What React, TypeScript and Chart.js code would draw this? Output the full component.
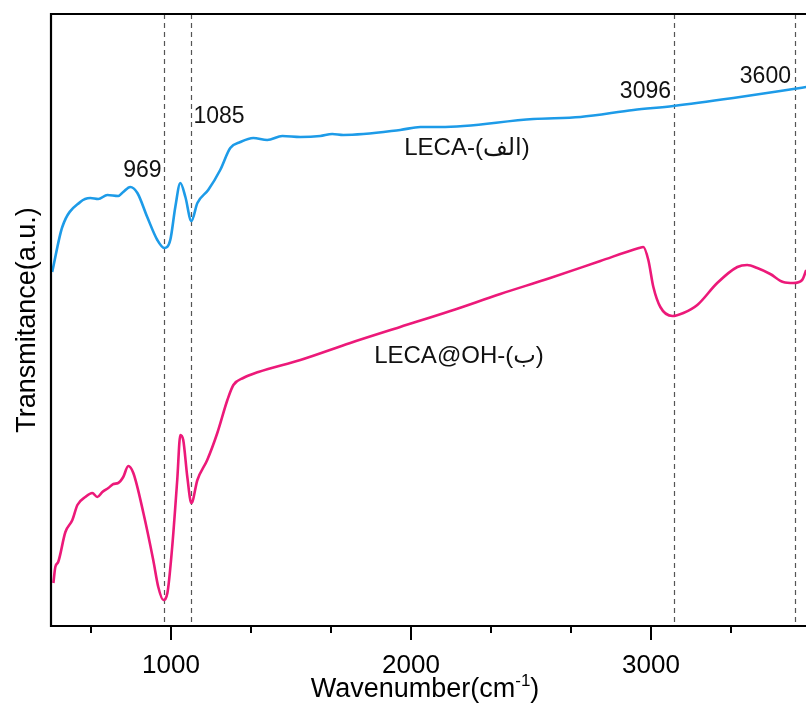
import React, { useEffect, useRef } from "react";
import { Chart, registerables } from "chart.js";

Chart.register(...registerables);

// LECA-(الف) spectrum (upper, blue)
const waveA = [505, 547, 622, 664, 697, 735, 780, 801, 830, 860, 901, 943, 972, 997, 1018, 1039, 1060, 1085, 1110, 1155, 1205, 1247, 1289, 1343, 1401, 1464, 1539, 1622, 1672, 1718, 1955, 2039, 2122, 2510, 2706, 2927, 3093, 3343, 3593, 3647];
const transA = [354, 399, 424, 428, 427, 431, 430, 434, 439, 433, 409, 386, 378, 386, 419, 443, 429, 405, 423, 436, 456, 478, 484, 488, 486, 490, 489, 490, 492, 491, 496, 499, 499, 507, 509, 516, 520, 528, 537, 539];

// LECA@OH-(ب) spectrum (lower, pink)
const waveB = [510, 518, 530, 560, 589, 610, 643, 672, 693, 714, 739, 760, 780, 801, 822, 843, 885, 926, 947, 968, 985, 1005, 1026, 1039, 1051, 1068, 1085, 1110, 1151, 1193, 1235, 1260, 1301, 1364, 1539, 1747, 1955, 2164, 2372, 2580, 2789, 2950, 2968, 2989, 3010, 3039, 3089, 3135, 3193, 3276, 3360, 3401, 3443, 3497, 3551, 3593, 3630, 3647];
const transB = [43, 59, 64, 94, 106, 121, 129, 133, 129, 134, 138, 142, 143, 149, 160, 153, 113, 66, 39, 26, 33, 79, 146, 191, 186, 149, 123, 146, 166, 193, 226, 241, 248, 254, 266, 283, 299, 315, 332, 348, 365, 378, 379, 366, 339, 319, 310, 313, 321, 343, 359, 361, 358, 352, 344, 343, 346, 356];

const markerLines = [969, 1085, 3096, 3600];
const markerLabels = ["969", "1085", "3096", "3600"];
const xTicks = [667, 1000, 1333, 1667, 2000, 2333, 2667, 3000, 3333];
const xTickLabels = [1000, 2000, 3000];
const seriesNames = ["LECA-(الف)", "LECA@OH-(ب)"];

const FONT = '"Liberation Sans", Arial, "DejaVu Sans", sans-serif';

const overlay = {
  id: "overlay",
  beforeDatasetsDraw(chart: any) {
    const ctx = chart.ctx;
    const xs = chart.scales.x;
    const { top, bottom } = chart.chartArea;
    ctx.save();
    ctx.strokeStyle = "#555";
    ctx.lineWidth = 1.2;
    ctx.setLineDash([5, 4]);
    markerLines.forEach((v) => {
      const px = Math.round(xs.getPixelForValue(v)) + 0.5;
      ctx.beginPath();
      ctx.moveTo(px, top);
      ctx.lineTo(px, bottom);
      ctx.stroke();
    });
    ctx.restore();
  },
  afterDatasetsDraw(chart: any) {
    const ctx = chart.ctx;
    const xs = chart.scales.x;
    const { left, right, top, bottom } = chart.chartArea;
    ctx.save();
    // frame
    ctx.strokeStyle = "#000";
    ctx.lineWidth = 2.2;
    ctx.beginPath();
    ctx.moveTo(right + 2, top);
    ctx.lineTo(left, top);
    ctx.lineTo(left, bottom);
    ctx.lineTo(right + 2, bottom);
    ctx.stroke();
    // ticks
    ctx.lineWidth = 2;
    xTicks.forEach((v) => {
      const px = Math.round(xs.getPixelForValue(v));
      const major = xTickLabels.includes(v);
      ctx.beginPath();
      ctx.moveTo(px, bottom);
      ctx.lineTo(px, bottom + (major ? 14 : 7));
      ctx.stroke();
    });
    // tick labels
    ctx.fillStyle = "#000";
    ctx.font = `26px ${FONT}`;
    ctx.textAlign = "center";
    ctx.textBaseline = "alphabetic";
    xTickLabels.forEach((v) => {
      ctx.fillText(String(v), xs.getPixelForValue(v), bottom + 47);
    });
    // x title with superscript
    const t1 = "Wavenumber(cm";
    const sup = "-1";
    const t2 = ")";
    ctx.font = `27px ${FONT}`;
    const w1 = ctx.measureText(t1).width;
    const w3 = ctx.measureText(t2).width;
    ctx.font = `17px ${FONT}`;
    const w2 = ctx.measureText(sup).width;
    const cx = 425;
    const x0 = cx - (w1 + w2 + w3) / 2;
    const by = bottom + 71;
    ctx.textAlign = "left";
    ctx.font = `27px ${FONT}`;
    ctx.fillText(t1, x0, by);
    ctx.font = `17px ${FONT}`;
    ctx.fillText(sup, x0 + w1, by - 11);
    ctx.font = `27px ${FONT}`;
    ctx.fillText(t2, x0 + w1 + w2, by);
    // y title
    ctx.save();
    ctx.translate(35, (top + bottom) / 2);
    ctx.rotate(-Math.PI / 2);
    ctx.textAlign = "center";
    ctx.font = `27px ${FONT}`;
    ctx.fillText("Transmitance(a.u.)", 0, 0);
    ctx.restore();
    // marker annotations
    ctx.font = `23px ${FONT}`;
    ctx.fillStyle = "#111";
    const ann = [
      { align: "right", dx: -2, y: 177 },
      { align: "left", dx: 2, y: 123 },
      { align: "right", dx: -3, y: 98 },
      { align: "right", dx: -4, y: 83 },
    ];
    markerLines.forEach((v, i) => {
      ctx.textAlign = ann[i].align;
      ctx.fillText(markerLabels[i], xs.getPixelForValue(v) + ann[i].dx, ann[i].y);
    });
    // series labels
    ctx.font = `24px ${FONT}`;
    ctx.textAlign = "center";
    ctx.direction = "ltr";
    ctx.fillText(seriesNames[0], 467, 155);
    ctx.fillText(seriesNames[1], 459, 363);
    ctx.restore();
  },
};

export default function App() {
  const ref = useRef<HTMLCanvasElement>(null);
  useEffect(() => {
    if (!ref.current) return;
    const chart = new Chart(ref.current, {
      type: "line",
      data: {
        datasets: [
          {
            label: seriesNames[0],
            data: waveA.map((x, i) => ({ x, y: transA[i] })),
            borderColor: "#1d9be8",
            borderWidth: 2.6,
            pointRadius: 0,
            cubicInterpolationMode: "monotone",
            fill: false,
          },
          {
            label: seriesNames[1],
            data: waveB.map((x, i) => ({ x, y: transB[i] })),
            borderColor: "#ec1979",
            borderWidth: 2.6,
            pointRadius: 0,
            cubicInterpolationMode: "monotone",
            fill: false,
          },
        ],
      },
      options: {
        responsive: false,
        animation: false,
        devicePixelRatio: 1,
        layout: { padding: { left: 51, right: 0, top: 14, bottom: 77 } },
        plugins: { legend: { display: false }, tooltip: { enabled: false } },
        scales: {
          x: { type: "linear", min: 500, max: 3646, display: false },
          y: { type: "linear", min: 0, max: 612, display: false },
        },
      },
      plugins: [overlay],
    });
    return () => chart.destroy();
  }, []);
  return (
    <div style={{ position: "fixed", left: 0, top: 0, width: 806, height: 703, background: "#fff" }}>
      <canvas ref={ref} width={806} height={703} style={{ display: "block" }} />
    </div>
  );
}
